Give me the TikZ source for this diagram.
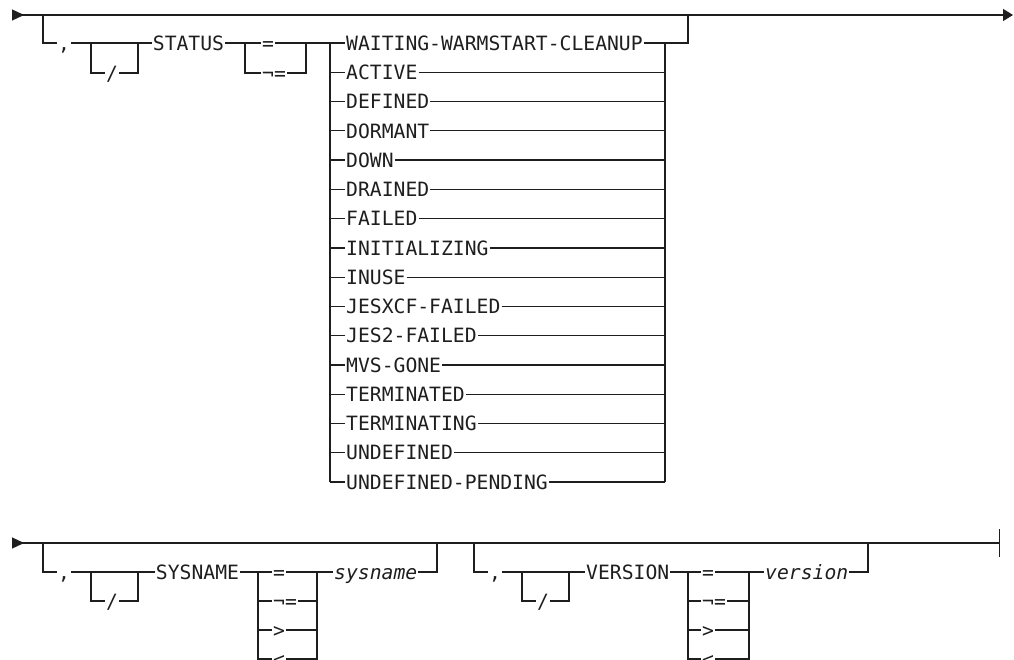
\documentclass[tikz,border=0pt]{standalone}
\usepackage{fontspec}
\usepackage{tikz}
\usetikzlibrary{arrows.meta,calc}
\newfontfamily\rrfont{DejaVu Sans Mono}
\definecolor{inkgray}{RGB}{30,30,30}
\tikzset{
  kw/.style ={font=\rrfont\fontsize{19.7}{22}\selectfont, text=inkgray,
              inner xsep=1pt, inner ysep=0pt,
              text height=14.4pt, text depth=0pt},
  var/.style={kw, font=\rrfont\itshape\fontsize{19.7}{22}\selectfont},
  ln/.style ={draw=inkgray, line width=1.3pt},
}

\begin{document}
\begin{tikzpicture}[x=1pt,y=-1pt]
  \useasboundingbox (0,0) rectangle (1014,660);

  % first line: STATUS
  \coordinate (in1)  at (12,15);
  \coordinate (out1) at (1013,15);
  \draw[ln, {Triangle[reversed,length=12pt,width=11pt]}-{Triangle[length=10pt,width=12pt]}]
        (in1)--(out1);

  \coordinate (j1)  at (43,15);
  \coordinate (j1e) at (688,15);
  \node[kw] (cm1) at (64,43) {,};
  \node[kw] (sl1) at (112,73) {/};
  \coordinate (o1a) at (91,43);
  \coordinate (o1b) at (138,43);
  \node[kw] (status) at (188.5,43) {STATUS};

  \coordinate (e1a) at (245,43);
  \coordinate (e1b) at (306,43);
  \node[kw, anchor=west] (eq1) at (261,43) {=};
  \node[kw, anchor=west] (ne1) at (261,73) {¬=};

  \foreach \v [count=\i from 0] in {WAITING-WARMSTART-CLEANUP,ACTIVE,DEFINED,
      DORMANT,DOWN,DRAINED,FAILED,INITIALIZING,INUSE,JESXCF-FAILED,
      JES2-FAILED,MVS-GONE,TERMINATED,TERMINATING,UNDEFINED,
      UNDEFINED-PENDING}{
    \coordinate (va\i) at (330,{43+29.27*\i});
    \coordinate (vb\i) at (665,{43+29.27*\i});
    \node[kw, anchor=west] (st\i) at (345,{43+29.27*\i}) {\v};
    \draw[ln](va\i)--(st\i.west) (st\i.east)--(vb\i);
  }

  \draw[ln](j1)|-(cm1.west);\draw[ln](cm1.east)--(status.west);
  \draw[ln](o1a)|-(sl1.west);\draw[ln](sl1.east)-|(o1b);
  \draw[ln](status.east)--(eq1.west);\draw[ln](eq1.east)--(e1b)--(va0);
  \draw[ln](e1a)|-(ne1.west);\draw[ln](ne1.east)-|(e1b);
  \draw[ln](va0)--(va15);\draw[ln](vb0)--(vb15);
  \draw[ln](vb0)-|(j1e);

  % second line: SYSNAME, VERSION
  \coordinate (in2)  at (12,543);
  \coordinate (out2) at (1000,543);
  \draw[ln, {Triangle[reversed,length=12pt,width=11pt]}-{Bar[width=28pt]}]
        (in2)--(out2);

  \coordinate (j2)  at (43,543);
  \coordinate (j2e) at (437,543);
  \node[kw] (cm2) at (64,572) {,};
  \node[kw] (sl2) at (112,601) {/};
  \coordinate (o2a) at (91,572);
  \coordinate (o2b) at (138,572);
  \node[kw] (sysname) at (197.5,572) {SYSNAME};
  \coordinate (e2a) at (258,572);
  \coordinate (e2b) at (317,572);
  \node[kw, anchor=west] (eq2) at (272,572) {=};
  \node[kw, anchor=west] (ne2) at (272,601) {¬=};
  \node[kw, anchor=west] (gt2) at (272,630) {>};
  \node[kw, anchor=west] (lt2) at (272,659) {<};
  \node[var, anchor=west] (sysv) at (333,572) {sysname};

  \draw[ln](j2)|-(cm2.west);\draw[ln](cm2.east)--(sysname.west);
  \draw[ln](o2a)|-(sl2.west);\draw[ln](sl2.east)-|(o2b);
  \draw[ln](sysname.east)--(eq2.west);\draw[ln](eq2.east)--(sysv.west);
  \draw[ln](e2a)|-(lt2.west) (e2a|-ne2)--(ne2.west) (e2a|-gt2)--(gt2.west);
  \draw[ln](lt2.east)-|(e2b) (ne2.east)--(e2b|-ne2) (gt2.east)--(e2b|-gt2);
  \draw[ln](sysv.east)-|(j2e);

  \coordinate (j3)  at (474,543);
  \coordinate (j3e) at (868,543);
  \node[kw] (cm3) at (495,572) {,};
  \node[kw] (sl3) at (543,601) {/};
  \coordinate (o3a) at (522,572);
  \coordinate (o3b) at (569,572);
  \node[kw, anchor=west] (version) at (585,572) {VERSION};
  \coordinate (e3a) at (688,572);
  \coordinate (e3b) at (749,572);
  \node[kw, anchor=west] (eq3) at (701,572) {=};
  \node[kw, anchor=west] (ne3) at (701,601) {¬=};
  \node[kw, anchor=west] (gt3) at (701,630) {>};
  \node[kw, anchor=west] (lt3) at (701,659) {<};
  \node[var, anchor=west] (verv) at (764,572) {version};

  \draw[ln](j3)|-(cm3.west);\draw[ln](cm3.east)--(version.west);
  \draw[ln](o3a)|-(sl3.west);\draw[ln](sl3.east)-|(o3b);
  \draw[ln](version.east)--(eq3.west);\draw[ln](eq3.east)--(verv.west);
  \draw[ln](e3a)|-(lt3.west) (e3a|-ne3)--(ne3.west) (e3a|-gt3)--(gt3.west);
  \draw[ln](lt3.east)-|(e3b) (ne3.east)--(e3b|-ne3) (gt3.east)--(e3b|-gt3);
  \draw[ln](verv.east)-|(j3e);
\end{tikzpicture}
\end{document}
